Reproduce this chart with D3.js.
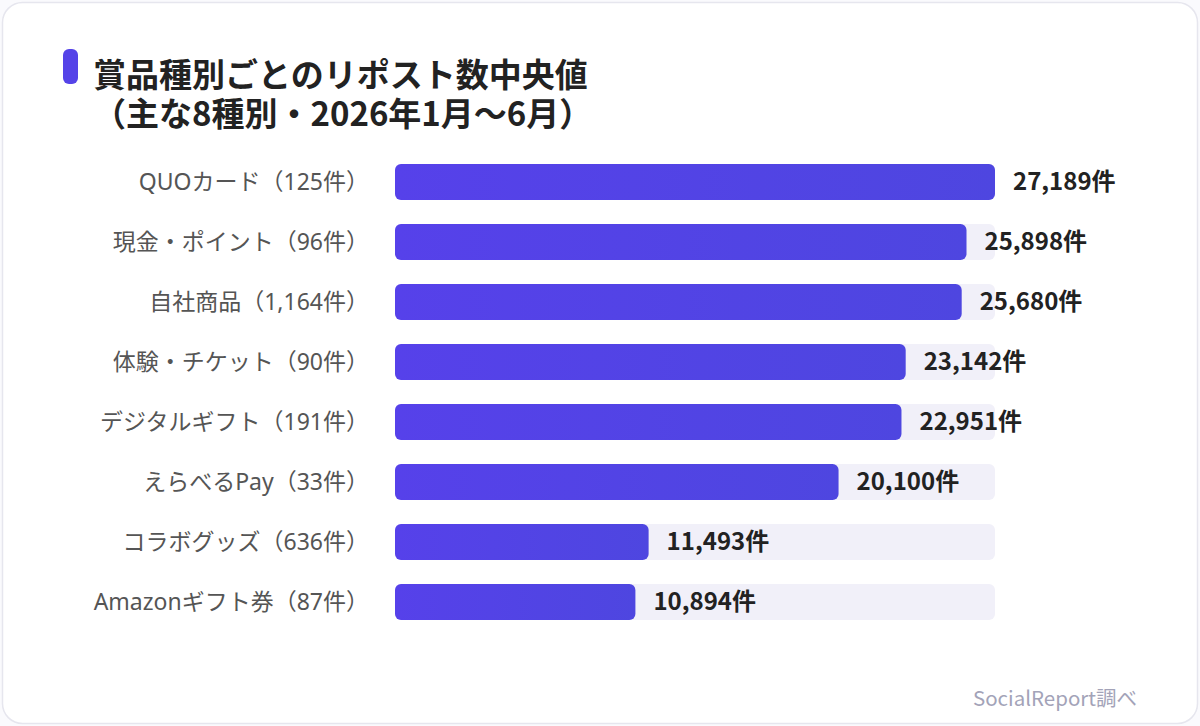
<!DOCTYPE html>
<html>
<head>
<meta charset="utf-8">
<script src="https://cdn.jsdelivr.net/npm/d3@7"></script>
<style>
  body { margin: 0; background: #fafafd; }
  svg { display: block; font-family: "Noto Sans CJK JP", "Noto Sans", sans-serif; }
</style>
</head>
<body>
<div id="chart"></div>
<script>
var categories = ["QUOカード（125件）", "現金・ポイント（96件）", "自社商品（1,164件）", "体験・チケット（90件）",
  "デジタルギフト（191件）", "えらべるPay（33件）", "コラボグッズ（636件）", "Amazonギフト券（87件）"];
var values = [27189, 25898, 25680, 23142, 22951, 20100, 11493, 10894];
var titleLines = ["賞品種別ごとのリポスト数中央値", "（主な8種別・2026年1月〜6月）"];
var sourceText = "SocialReport調べ";

var W = 1200, H = 726;
var svg = d3.select("#chart").append("svg")
  .attr("width", W).attr("height", H);

var defs = svg.append("defs");
var grad = defs.append("linearGradient").attr("id", "barGrad")
  .attr("x1", "0%").attr("x2", "100%").attr("y1", "0%").attr("y2", "0%");
grad.append("stop").attr("offset", "0%").attr("stop-color", "#5641ea");
grad.append("stop").attr("offset", "100%").attr("stop-color", "#4e46e0");

// card
svg.append("rect")
  .attr("x", 2.5).attr("y", 2.5).attr("width", W - 5).attr("height", H - 5)
  .attr("rx", 20).attr("fill", "#ffffff").attr("stroke", "#e6e6ee").attr("stroke-width", 1.5);

// title (one text, two lines)
svg.append("rect").attr("x", 63).attr("y", 49).attr("width", 15).attr("height", 35)
  .attr("rx", 6).attr("fill", "#5543e8");
var title = svg.append("text")
  .attr("x", 93).attr("y", 87)
  .attr("font-size", 33).attr("font-weight", 700).attr("fill", "#222");
title.selectAll("tspan").data(titleLines).enter().append("tspan")
  .attr("x", 93)
  .attr("dy", function(d, i){ return i == 0 ? 0 : 39; })
  .text(function(d){ return d; });

var margin = {left: 395, top: 152};
var x = d3.scaleLinear().domain([0, d3.max(values)]).range([0, 600]);
var y = d3.scaleBand().domain(categories).range([margin.top, margin.top + 480]).paddingInner(0.4).paddingOuter(0.2);

var g = svg.append("g");

// tracks
g.selectAll(".track").data(categories).enter().append("rect")
  .attr("x", margin.left).attr("y", function(d){ return y(d); })
  .attr("width", x.range()[1]).attr("height", y.bandwidth())
  .attr("rx", 6).attr("fill", "#f1f0f9");

// bars
g.selectAll(".bar").data(values).enter().append("rect")
  .attr("x", margin.left).attr("y", function(d, i){ return y(categories[i]); })
  .attr("width", function(d){ return x(d); }).attr("height", y.bandwidth())
  .attr("rx", 6).attr("fill", "url(#barGrad)");

// category labels
g.selectAll(".cat").data(categories).enter().append("text")
  .attr("x", 369).attr("y", function(d){ return y(d) + y.bandwidth() / 2; })
  .attr("dy", "0.35em").attr("text-anchor", "end")
  .attr("font-family", "'Noto Sans', 'Noto Sans CJK JP', sans-serif")
  .attr("font-size", 23).attr("fill", "#555")
  .text(function(d){ return d; });

// value labels
g.selectAll(".val").data(values).enter().append("text")
  .attr("x", function(d){ return margin.left + x(d) + 18; })
  .attr("y", function(d, i){ return y(categories[i]) + y.bandwidth() / 2; })
  .attr("dy", "0.35em")
  .attr("font-size", 24).attr("font-weight", 700).attr("fill", "#222")
  .text(function(d){ return d3.format(",")(d) + "件"; });

// source
svg.append("text").attr("x", 1137).attr("y", 706).attr("text-anchor", "end")
  .attr("font-size", 20.5).attr("fill", "#a3a3b8").text(sourceText);
</script>
</body>
</html>
